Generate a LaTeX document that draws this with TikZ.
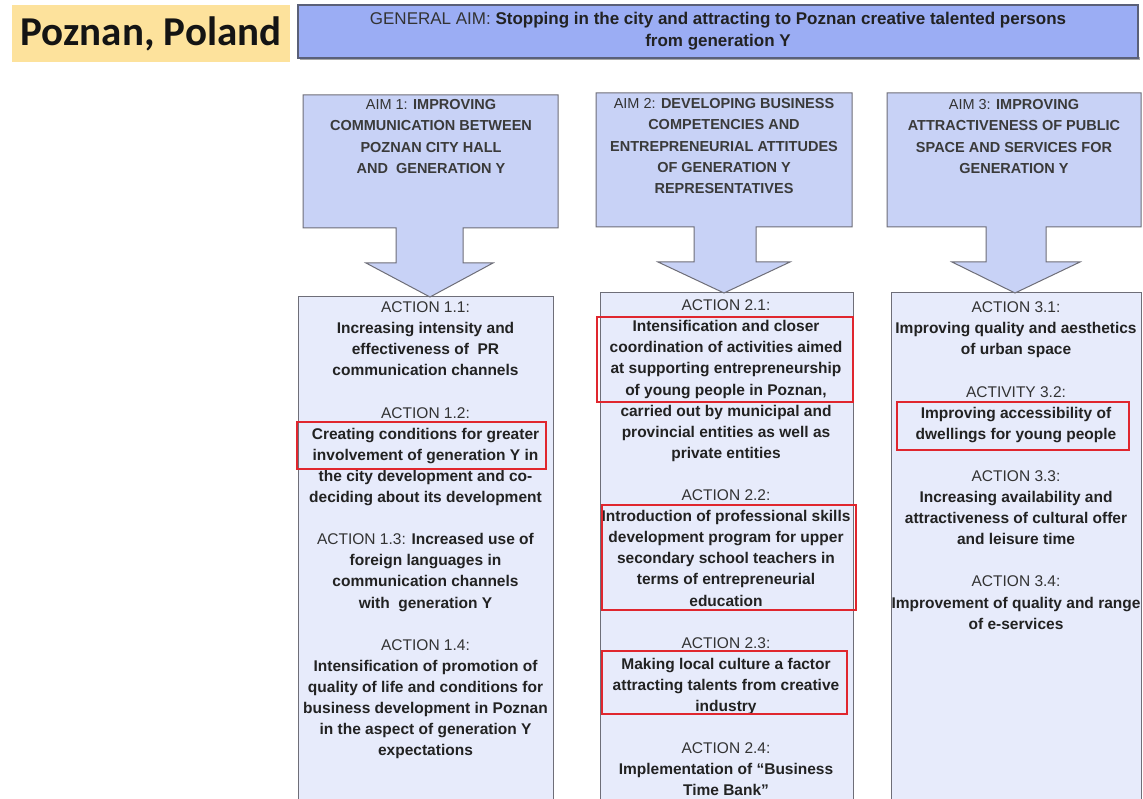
\documentclass[tikz,border=0pt]{standalone}
\usepackage{fontspec}
\setmainfont{Liberation Sans}
\newfontfamily\titlefont{Carlito}
\definecolor{titlefill}{HTML}{FDE29C}
\definecolor{genfill}{HTML}{9BADF4}
\definecolor{genline}{HTML}{5A6078}
\definecolor{aimfill}{HTML}{C8D2F6}
\definecolor{actfill}{HTML}{E7EBFB}
\definecolor{boxline}{HTML}{6E6E78}
\definecolor{redmark}{HTML}{E0262E}
\definecolor{hdcol}{HTML}{333333}
\definecolor{bdcol}{HTML}{222222}
\definecolor{aimtxt}{HTML}{3A3A3A}
\newcommand{\acthd}[1]{{\mdseries\color{hdcol}#1}}
\newcommand{\actbd}[1]{{\bfseries\color{bdcol}#1}}
\begin{document}
\begin{tikzpicture}[x=1pt,y=-1pt,
  aimshape/.style={draw=boxline, fill=aimfill, line width=1pt, line join=miter},
  actbox/.style={draw=boxline, fill=actfill, line width=1pt},
  redbox/.style={draw=redmark, line width=1.8pt},
  coltext/.style={anchor=north, inner sep=0pt, align=center, font=\fontsize{15.5}{21.1}\selectfont},
  aimtext/.style={anchor=north, inner sep=0pt, align=center, font=\fontsize{14.5}{21.3}\selectfont, text=aimtxt},
]
\useasboundingbox (0,0) rectangle (1143,799);
\clip (0,0) rectangle (1143,799);
\fill[white] (0,0) rectangle (1143,799);

% title
\node[fill=titlefill, minimum width=278pt, minimum height=57pt, inner sep=0pt,
  font=\titlefont\bfseries\fontsize{41}{49}\selectfont, text=black!92] (title) at (151,34) {Poznan, Poland};

% general aim
\fill[black!35] (300,57) rectangle (1140,60);
\node[fill=genfill, draw=genline, line width=1.1pt, minimum width=840pt, minimum height=53pt,
  align=center, font=\fontsize{17}{22}\selectfont] (gen) at (718,31.5)
  {\acthd{GENERAL AIM:} \actbd{Stopping in the city and attracting to Poznan creative talented persons}\\
   \actbd{from generation Y}};

% action boxes
\draw[actbox] (298,297) rectangle (553,810);
\draw[actbox] (600,293) rectangle (853,810);
\draw[actbox] (891,293) rectangle (1141,810);

% aim arrows
\draw[aimshape] (303,95) -- (558,95) -- (558,228) -- (463,228) -- (463,263) -- (493,263)
  -- (430,297) -- (366,263) -- (396,263) -- (396,228) -- (303,228) -- cycle;
\draw[aimshape] (596,93) -- (852,93) -- (852,227) -- (756,227) -- (756,262) -- (790,262)
  -- (724,293) -- (658,262) -- (694,262) -- (694,227) -- (596,227) -- cycle;
\draw[aimshape] (887,93) -- (1141,93) -- (1141,227) -- (1046,227) -- (1046,262) -- (1080,262)
  -- (1015,293) -- (952,262) -- (986,262) -- (986,227) -- (887,227) -- cycle;

% aim texts
\node[aimtext] (aim1) at (431,94.3)
  {\strut\acthd{AIM 1:} \textbf{IMPROVING}\\ \textbf{COMMUNICATION BETWEEN}\\ \textbf{POZNAN CITY HALL}\\ \textbf{AND\ \ GENERATION Y}};
\node[aimtext] (aim2) at (724,93.3)
  {\strut\acthd{AIM 2:} \textbf{DEVELOPING BUSINESS}\\ \textbf{COMPETENCIES AND}\\ \textbf{ENTREPRENEURIAL ATTITUDES}\\ \textbf{OF GENERATION Y}\\ \textbf{REPRESENTATIVES}};
\node[aimtext] (aim3) at (1014,94.3)
  {\strut\acthd{AIM 3:} \textbf{IMPROVING}\\ \textbf{ATTRACTIVENESS OF PUBLIC}\\ \textbf{SPACE AND SERVICES FOR}\\ \textbf{GENERATION Y}};

% column texts
\node[coltext] (col1) at (425.5,297.7) {%
\strut\acthd{ACTION 1.1:}\\
\actbd{Increasing intensity and}\\
\actbd{effectiveness of\ \ PR}\\
\actbd{communication channels}\\
\strut\\
\acthd{ACTION 1.2:}\\
\actbd{Creating conditions for greater}\\
\actbd{involvement of generation Y in}\\
\actbd{the city development and co-}\\
\actbd{deciding about its development}\\
\strut\\
\acthd{ACTION 1.3:} \actbd{Increased use of}\\
\actbd{foreign languages in}\\
\actbd{communication channels}\\
\actbd{with\ \ generation Y}\\
\strut\\
\acthd{ACTION 1.4:}\\
\actbd{Intensification of promotion of}\\
\actbd{quality of life and conditions for}\\
\actbd{business development in Poznan}\\
\actbd{in the aspect of generation Y}\\
\actbd{expectations}};

\node[coltext] (col2) at (726,295.7) {%
\strut\acthd{ACTION 2.1:}\\
\actbd{Intensification and closer}\\
\actbd{coordination of activities aimed}\\
\actbd{at supporting entrepreneurship}\\
\actbd{of young people in Poznan,}\\
\actbd{carried out by municipal and}\\
\actbd{provincial entities as well as}\\
\actbd{private entities}\\
\strut\\
\acthd{ACTION 2.2:}\\
\actbd{Introduction of professional skills}\\
\actbd{development program for upper}\\
\actbd{secondary school teachers in}\\
\actbd{terms of entrepreneurial}\\
\actbd{education}\\
\strut\\
\acthd{ACTION 2.3:}\\
\actbd{Making local culture a factor}\\
\actbd{attracting talents from creative}\\
\actbd{industry}\\
\strut\\
\acthd{ACTION 2.4:}\\
\actbd{Implementation of “Business}\\
\actbd{Time Bank”}};

\node[coltext] (col3) at (1016,297.7) {%
\strut\acthd{ACTION 3.1:}\\
\actbd{Improving quality and aesthetics}\\
\actbd{of urban space}\\
\strut\\
\acthd{ACTIVITY 3.2:}\\
\actbd{Improving accessibility of}\\
\actbd{dwellings for young people}\\
\strut\\
\acthd{ACTION 3.3:}\\
\actbd{Increasing availability and}\\
\actbd{attractiveness of cultural offer}\\
\actbd{and leisure time}\\
\strut\\
\acthd{ACTION 3.4:}\\
\actbd{Improvement of quality and range}\\
\actbd{of e-services}};

% red highlight boxes
\draw[redbox] (297,422) rectangle (546,469);
\draw[redbox] (597,317) rectangle (853,402);
\draw[redbox] (602,505) rectangle (856,610);
\draw[redbox] (602,651) rectangle (847,714);
\draw[redbox] (897,402) rectangle (1129,450);
\end{tikzpicture}
\end{document}
